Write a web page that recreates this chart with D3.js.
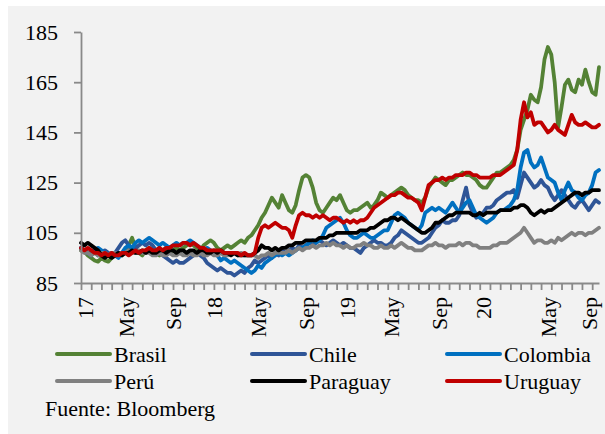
<!DOCTYPE html>
<html><head><meta charset="utf-8">
<script src="https://cdn.jsdelivr.net/npm/d3@7"></script>
<style>
html,body{margin:0;padding:0;background:#fff;}
svg{display:block;}
</style></head>
<body><svg id="c" width="605" height="434"></svg>
<script>
const seriesNames = ["Brasil","Chile","Colombia","Perú","Paraguay","Uruguay"];
const seriesColors = ["#548235","#2f5597","#0070c0","#808080","#000000","#c00000"];

const brasil = [
98,97.5,96,95,94,93.5,95,94,93.5,95,
96,97,96,98,100,103,99,97,96,98,
99,98,97,96,98,99,97,98,99,98,
99,100,101,100,99,98,100,101,102,101,
99,98,99,100,99,100,101,102,101,103,
104,106,108,111,113,116,119,117,115,120,
117,114,113,116,122,127,128,127,123,117,
114,113,115,117,119,118,120,117,114,113,
114,114,115,116,117,115,116,118,121,120,
119,120,121,122,123,122,120,119,118,118,
117,119,123,125,127,126,125,124,126,126,
127,128,129,128,128,127,126,124,123,123,
125,127,129,129,130,131,132,134,138,146,
150,154,160,158,157,163,174,179,176,165,
147,155,164,166,162,161,166,164,170,165,161,160,171];

const chile = [
99,98,97,97,98,96,97,98,97,96,
97,99,101,102,100,98,99,100,101,100,
101,100,98,97,96,95,94,93,94,93,
93,94,95,96,97,96,95,93,92,91,
90,91,90,89,89,88,89,90,89,91,
92,94,93,94,95,96,95,97,96,98,
97,98,99,98,100,99,100,101,100,101,
102,101,100,101,102,101,100,101,100,99,
99,98,97,99,100,101,102,101,101,100,
100,101,103,104,106,105,104,103,102,101,
101,102,103,105,107,108,110,109,109,110,
110,112,118,123,116,113,111,112,113,115,
115,116,118,119,120,121,121,122,119,124,
129,127,125,123,124,126,124,123,120,118,
120,122,120,118,116,115,117,118,116,114,116,118,117];

const colombia = [
99,98,97,96,98,99,98,97,96,97,
96,95,97,99,100,99,101,102,101,102,
103,102,101,100,101,100,99,100,101,100,
101,101,102,101,100,99,98,99,98,97,
96,94,95,94,93,94,93,92,91,90,
89,90,92,91,93,94,95,96,97,96,
97,96,97,98,99,99,100,101,102,101,
102,104,107,108,109,110,111,109,106,104,
103,103,104,105,104,103,103,104,105,106,
106,109,112,113,112,111,109,108,107,106,
108,113,114,115,114,115,114,113,115,117,
115,113,115,117,118,115,112,111,110,109,
110,111,113,114,114,115,116,118,122,131,
137,138,133,131,132,135,131,127,126,125,
121,118,122,125,122,121,119,118,120,121,124,129,130];

const peru = [
98,97,97,96,97,96,97,97,96,97,
97,96,97,97,98,97,97,98,97,97,
97,96,96,97,96,96,97,96,96,97,
96,96,97,96,96,97,96,96,97,96,
96,97,96,96,97,97,96,97,96,96,
96,96,95,96,96,97,96,97,97,97,
97,98,97,98,99,98,99,99,100,99,
100,100,101,100,101,100,100,99,100,99,
99,100,100,101,100,100,99,99,100,99,
99,100,99,100,101,100,99,99,98,98,
98,99,100,100,101,100,100,99,100,100,
100,101,100,101,101,100,100,99,99,99,
99,100,100,101,101,101,102,103,104,105,
107,105,103,101,102,102,101,101,102,101,
103,102,103,104,105,104,105,105,104,105,105,106,107];

const paraguay = [
101,100,101,100,99,98,96,95,96,95,
96,97,96,97,97,98,97,97,98,97,
98,97,97,98,98,97,98,98,97,98,
98,97,98,98,97,98,98,97,97,98,
97,98,97,97,96,97,96,96,96,96,
96,97,98,100,99,99,98,99,98,99,
99,100,100,101,101,101,102,102,102,102,
103,103,103,104,104,105,105,105,105,105,
105,105,106,106,106,107,107,108,109,110,
110,111,111,110,111,110,109,108,107,106,
105,105,106,107,109,109,110,111,112,112,
113,113,113,113,113,112,112,113,112,113,
113,113,113,114,114,114,114,115,115,116,
116,115,113,112,113,114,113,114,114,115,
116,117,118,119,120,121,121,120,121,121,122,122,122];

const uruguay = [
99,98,99,98,97,97,96,97,96,97,
96,96,97,97,96,97,98,97,98,98,
99,98,98,99,98,99,99,100,100,100,
101,101,100,101,100,99,99,98,98,98,
98,98,97,97,97,97,97,96,97,96,
96,97,103,107,108,107,108,109,108,107,
107,106,103,108,112,113,112,112,111,112,
111,112,111,110,111,111,110,109,110,109,
110,109,110,110,111,113,115,116,117,118,
119,120,120,121,121,120,119,119,118,117,
114,119,124,125,126,126,127,126,127,127,
128,128,128,129,129,128,128,127,127,127,
127,128,128,128,129,130,131,132,138,150,
157,151,153,148,149,149,147,145,146,148,
146,145,144,148,152,149,148,148,149,148,147,147,148];

const seriesValues = [brasil, chile, colombia, peru, paraguay, uruguay];

const yTicks = [85,105,125,145,165,185];
const xLabels = ["17","May","Sep","18","May","Sep","19","May","Sep","20","May","Sep"];
const xLabelPos = [1,13,27,39,52,66,78,91,105,118,137,149];
const sourceText = "Fuente: Bloomberg";

const FONT = '"Liberation Serif"';
const svg = d3.select("#c");
const N = brasil.length;
const font = 22;

svg.append("rect").attr("x",8).attr("y",6).attr("width",597).attr("height",428).attr("fill","#f2f2f2");

const x = d3.scaleLinear().domain([0, N-1]).range([81, 599]);
const y = d3.scaleLinear().domain([85,185]).range([283, 32]);

const line = d3.line().x((d,i)=>x(i)).y(d=>y(d));
seriesValues.forEach((vals, k) => {
  svg.append("path").datum(vals)
    .attr("d", line)
    .attr("fill","none")
    .attr("stroke", seriesColors[k])
    .attr("stroke-width", 3.8)
    .attr("stroke-linejoin","round")
    .attr("stroke-linecap","round");
});

const ya = svg.append("g").attr("transform","translate(81,0)")
  .call(d3.axisLeft(y).tickValues(yTicks).tickSize(7).tickSizeOuter(0).tickPadding(16).tickFormat(d3.format("d")));
ya.select(".domain").attr("stroke","#898989").attr("stroke-width",1.8);
ya.selectAll(".tick line").attr("stroke","#898989").attr("stroke-width",1.8);
ya.selectAll(".tick text").attr("font-size",font).attr("fill","#000").style("font-family",FONT);

const xa = svg.append("g").attr("transform","translate(0,283)")
  .call(d3.axisBottom(x).tickValues(d3.range(0, N, 3)).tickSize(7).tickSizeOuter(0).tickFormat(""));
xa.select(".domain").attr("stroke","#898989").attr("stroke-width",1.8);
xa.selectAll(".tick line").attr("stroke","#898989").attr("stroke-width",1.8);

const xl = svg.append("g").attr("transform","translate(0,283)")
  .call(d3.axisBottom(x).tickValues(xLabelPos).tickSize(0).tickFormat((d,i)=>xLabels[i]));
xl.select(".domain").remove();
xl.selectAll(".tick text")
  .attr("font-size",font).attr("fill","#000").style("font-family",FONT)
  .attr("text-anchor","end")
  .attr("transform","rotate(-90)")
  .attr("x",-14).attr("y",0).attr("dy","0.35em");

const colX = [57,252,447], rowY = [354,381];
seriesNames.forEach((name,k)=>{
  const cx = colX[k%3], cy = rowY[Math.floor(k/3)];
  svg.append("line").attr("x1",cx).attr("x2",cx+53).attr("y1",cy).attr("y2",cy)
    .attr("stroke",seriesColors[k]).attr("stroke-width",4).attr("stroke-linecap","round");
  svg.append("text").attr("x",cx+57).attr("y",cy).attr("dy","0.35em")
    .attr("font-size",font).style("font-family",FONT).attr("fill","#000").text(name);
});
svg.append("text").attr("x",45).attr("y",408).attr("dy","0.35em")
  .attr("font-size",font).style("font-family",FONT).attr("fill","#000").text(sourceText);
</script></body></html>
